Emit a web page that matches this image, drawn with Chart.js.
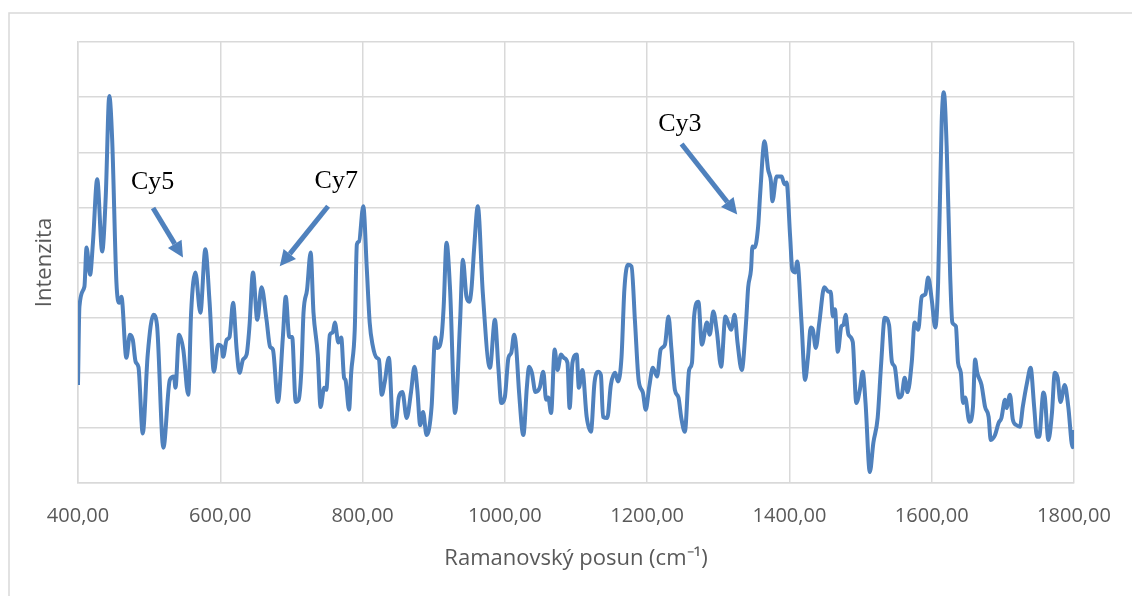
<!DOCTYPE html>
<html>
<head>
<meta charset="utf-8">
<script src="https://cdn.jsdelivr.net/npm/chart.js@4.4.0/dist/chart.umd.min.js"></script>
<style>
  html, body { margin: 0; padding: 0; background: #fff; overflow: hidden; }
  #wrap { width: 1132px; height: 596px; position: relative; }
</style>
</head>
<body>
<div id="wrap"><canvas id="chart" width="1132" height="596"></canvas></div>
<script>
// Raman shift (cm-1) and intensity
const ramanShift = [
  400, 402, 409, 412, 417, 421, 427, 434, 439, 444, 448, 454, 458, 461, 468, 473, 477, 481, 485, 491,
  498, 506, 511, 520, 529, 535, 537, 542, 548, 555, 559, 565, 572, 579, 585, 591, 597, 602, 604, 609,
  613, 618, 623, 627, 632, 637, 641, 646, 652, 658, 665, 670, 674, 681, 688, 692, 697, 701, 706, 710,
  714, 717, 722, 727, 731, 737, 741, 746, 749, 754, 758, 761, 766, 770, 774, 776, 781, 784, 789, 792,
  795, 801, 806, 810, 814, 820, 823, 827, 831, 837, 843, 847, 851, 856, 862, 868, 873, 877, 881, 885,
  890, 897, 902, 905, 911, 914, 918, 923, 930, 937, 941, 946, 950, 953, 957, 962, 969, 979, 986, 991,
  995, 1000, 1005, 1009, 1013, 1016, 1020, 1026, 1031, 1034, 1038, 1043, 1049, 1054, 1058, 1061, 1065, 1070, 1074, 1079,
  1083, 1088, 1091, 1095, 1101, 1104, 1109, 1115, 1121, 1126, 1131, 1135, 1138, 1144, 1149, 1155, 1159, 1164, 1168, 1173,
  1178, 1183, 1188, 1194, 1198, 1203, 1208, 1214, 1219, 1225, 1230, 1234, 1239, 1244, 1248, 1253, 1259, 1263, 1266, 1272,
  1277, 1284, 1288, 1293, 1298, 1304, 1310, 1318, 1323, 1327, 1333, 1339, 1342, 1346, 1348, 1351, 1356, 1359, 1365, 1370,
  1374, 1376, 1382, 1389, 1393, 1396, 1401, 1404, 1408, 1411, 1417, 1422, 1426, 1430, 1433, 1437, 1442, 1449, 1455, 1458,
  1461, 1464, 1468, 1473, 1476, 1479, 1483, 1489, 1494, 1499, 1503, 1507, 1513, 1518, 1524, 1529, 1534, 1540, 1544, 1548,
  1554, 1558, 1562, 1566, 1572, 1576, 1581, 1586, 1591, 1595, 1600, 1605, 1609, 1614, 1617, 1621, 1626, 1629, 1634, 1637,
  1641, 1644, 1647, 1653, 1658, 1661, 1664, 1670, 1675, 1680, 1683, 1689, 1694, 1698, 1703, 1705, 1710, 1714, 1719, 1724,
  1728, 1734, 1739, 1744, 1748, 1751, 1757, 1759, 1764, 1769, 1773, 1777, 1781, 1787, 1792, 1798, 1800
];
const intensity = [
  1.78, 3.2, 3.56, 4.27, 3.78, 4.36, 5.51, 4.2, 5.2, 7.02, 6.24, 3.64, 3.27, 3.38, 2.27, 2.69, 2.6, 2.2, 2.1, 0.9,
  2.33, 3.05, 2.87, 0.64, 1.87, 1.93, 1.73, 2.69, 2.42, 1.6, 3.09, 3.82, 3.09, 4.24, 3.27, 2.02, 2.51, 2.47, 2.29, 2.6,
  2.65, 3.27, 2.42, 2.0, 2.24, 2.33, 2.84, 3.82, 2.96, 3.55, 2.96, 2.47, 2.42, 1.47, 2.65, 3.38, 2.65, 2.65, 1.47, 1.5,
  2.05, 3.09, 3.51, 4.18, 3.09, 2.33, 1.38, 1.73, 1.69, 2.69, 2.73, 2.91, 2.55, 2.64, 1.91, 1.87, 1.33, 2.0, 2.78, 4.33,
  4.38, 5.02, 3.87, 2.91, 2.51, 2.27, 2.24, 1.6, 1.82, 2.27, 1.02, 1.09, 1.56, 1.65, 1.18, 1.64, 2.11, 1.69, 1.05, 1.29,
  0.87, 1.38, 2.64, 2.45, 2.65, 3.2, 4.36, 3.51, 1.27, 2.91, 4.05, 3.38, 3.29, 3.51, 4.29, 5.02, 3.45, 2.09, 2.96, 2.07,
  1.45, 1.56, 2.27, 2.36, 2.69, 2.45, 1.64, 0.87, 1.75, 2.11, 2.0, 1.65, 1.73, 2.02, 1.51, 1.55, 1.27, 2.42, 2.05, 2.33,
  2.27, 2.18, 1.36, 2.18, 2.33, 1.73, 2.05, 1.2, 0.93, 1.82, 2.02, 1.96, 1.2, 1.18, 1.78, 2.0, 1.84, 2.29, 3.51, 3.96,
  3.93, 2.91, 1.87, 1.64, 1.33, 1.75, 2.09, 1.93, 2.42, 2.51, 3.02, 2.45, 1.69, 1.55, 1.18, 0.93, 2.05, 2.18, 3.02, 3.29,
  2.51, 2.91, 2.69, 3.11, 2.75, 2.11, 3.02, 2.78, 3.05, 2.55, 2.05, 2.91, 3.55, 3.87, 4.29, 4.27, 4.65, 5.27, 6.2, 5.69,
  5.47, 5.11, 5.56, 5.56, 5.42, 5.45, 4.47, 3.87, 3.82, 4.02, 2.91, 1.87, 2.27, 2.82, 2.78, 2.45, 2.91, 3.55, 3.47, 3.47,
  3.02, 3.15, 2.38, 2.84, 2.87, 3.05, 2.69, 2.56, 1.45, 1.69, 2.02, 1.45, 0.2, 0.73, 1.18, 2.18, 3.0, 2.87, 2.2, 2.11,
  1.55, 1.6, 1.91, 1.65, 2.2, 2.91, 2.78, 3.38, 3.42, 3.73, 3.33, 2.82, 3.64, 6.55, 7.09, 6.11, 3.75, 2.91, 2.84, 2.18,
  2.0, 1.45, 1.55, 1.11, 1.38, 2.24, 2.0, 1.78, 1.38, 1.2, 0.78, 0.87, 1.09, 1.18, 1.51, 1.36, 1.6, 1.15, 1.05, 1.02,
  1.38, 1.82, 2.09, 1.38, 0.84, 0.84, 1.64, 1.56, 0.78, 1.27, 2.0, 1.91, 1.47, 1.78, 1.38, 0.65, 0.96
];
const xTicks = [400, 600, 800, 1000, 1200, 1400, 1600, 1800];

// dye labels with arrows (in data units)
const noteNames = ['Cy5', 'Cy7', 'Cy3'];
const noteTextX = [505, 763, 1246];
const noteTextY = [5.45, 5.47, 6.51];
const arrowFromX = [505.5, 751.5, 1248.4];
const arrowFromY = [4.99, 5.02, 6.15];
const arrowToX = [547.6, 683.6, 1326.6];
const arrowToY = [4.09, 3.93, 4.87];

const blue = '#4f81bd';
const gridColor = '#d9d9d9';
const textColor = '#595959';
const uiFont = "'Open Sans', 'Liberation Sans', sans-serif";

const points = ramanShift.map((x, i) => ({ x: x, y: intensity[i] }));

// outer frame of the figure
const framePlugin = {
  id: 'frame',
  beforeDraw(chart) {
    const ctx = chart.ctx;
    ctx.save();
    ctx.fillStyle = '#fff';
    ctx.fillRect(0, 0, chart.width, chart.height);
    ctx.strokeStyle = gridColor;
    ctx.lineWidth = 1.5;
    ctx.strokeRect(9, 13, chart.width + 20, chart.height + 20);
    ctx.restore();
  }
};

// Cy labels and arrows
const notesPlugin = {
  id: 'notes',
  afterDatasetsDraw(chart) {
    const ctx = chart.ctx;
    const xs = chart.scales.x, ys = chart.scales.y;
    ctx.save();
    noteNames.forEach((name, i) => {
      const x1 = xs.getPixelForValue(arrowFromX[i]), y1 = ys.getPixelForValue(arrowFromY[i]);
      const x2 = xs.getPixelForValue(arrowToX[i]), y2 = ys.getPixelForValue(arrowToY[i]);
      const ang = Math.atan2(y2 - y1, x2 - x1);
      const headLen = 16, headW = 8;
      const bx = x2 - headLen * Math.cos(ang), by = y2 - headLen * Math.sin(ang);
      ctx.strokeStyle = blue;
      ctx.lineWidth = 5;
      ctx.beginPath();
      ctx.moveTo(x1, y1);
      ctx.lineTo(bx, by);
      ctx.stroke();
      ctx.fillStyle = blue;
      ctx.beginPath();
      ctx.moveTo(x2, y2);
      ctx.lineTo(bx + headW * Math.sin(ang), by - headW * Math.cos(ang));
      ctx.lineTo(bx - headW * Math.sin(ang), by + headW * Math.cos(ang));
      ctx.closePath();
      ctx.fill();

      ctx.fillStyle = '#000';
      ctx.font = "26px 'Liberation Serif', 'DejaVu Serif', serif";
      ctx.textAlign = 'center';
      ctx.textBaseline = 'middle';
      ctx.fillText(name, xs.getPixelForValue(noteTextX[i]), ys.getPixelForValue(noteTextY[i]));
    });
    ctx.restore();
  }
};

new Chart(document.getElementById('chart'), {
  type: 'line',
  data: {
    datasets: [{
      data: points,
      borderColor: blue,
      borderWidth: 4,
      pointRadius: 0,
      fill: false,
      cubicInterpolationMode: 'monotone'
    }]
  },
  options: {
    responsive: false,
    animation: false,
    devicePixelRatio: 1,
    layout: { padding: { left: 0, top: 42, right: 58, bottom: 0 } },
    plugins: { legend: { display: false }, tooltip: { enabled: false } },
    scales: {
      x: {
        type: 'linear',
        min: 400,
        max: 1800,
        afterBuildTicks: s => { s.ticks = xTicks.map(v => ({ value: v })); },
        afterFit: s => { s.height = 113; },
        grid: { color: gridColor, lineWidth: 1.5, drawTicks: false },
        border: { color: gridColor, width: 1.5 },
        ticks: {
          padding: 21,
          color: textColor,
          font: { family: uiFont, size: 20 },
          maxRotation: 0,
          callback: v => v.toFixed(2).replace('.', ',')
        },
        title: {
          display: true,
          text: 'Ramanovský posun (cm⁻¹)',
          color: textColor,
          font: { family: uiFont, size: 22 },
          padding: { top: 0, bottom: 24 }
        }
      },
      y: {
        min: 0,
        max: 8,
        afterFit: s => { s.width = 78; },
        grid: { color: gridColor, lineWidth: 1.5, drawTicks: false },
        border: { color: gridColor, width: 1.5 },
        ticks: { display: false, stepSize: 1 },
        title: {
          display: true,
          text: 'Intenzita',
          color: textColor,
          font: { family: uiFont, size: 22 },
          padding: { top: 32, bottom: 0 }
        }
      }
    }
  },
  plugins: [framePlugin, notesPlugin]
});
</script>
</body>
</html>
